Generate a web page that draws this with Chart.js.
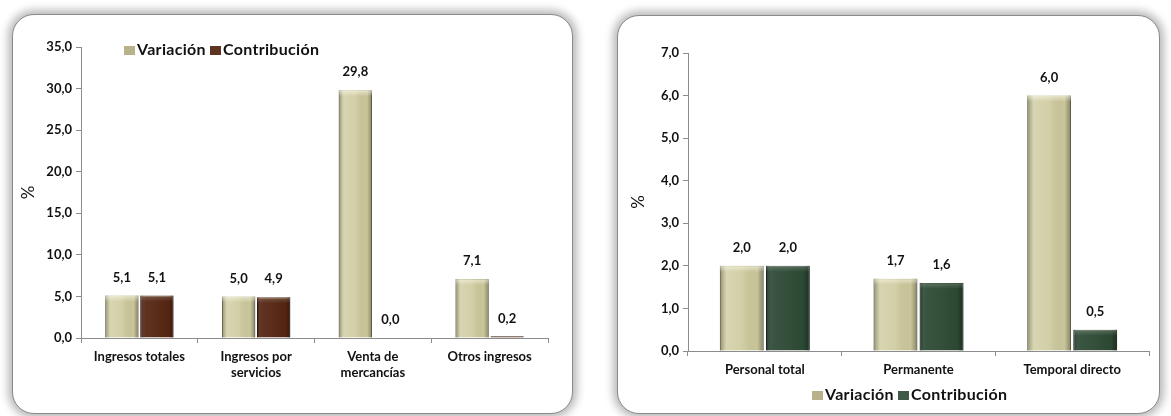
<!DOCTYPE html>
<html>
<head>
<meta charset="utf-8">
<script src="https://cdn.jsdelivr.net/npm/chart.js@4/dist/chart.umd.min.js"></script>
<style>
  body { margin: 0; background: #fff; width: 1171px; height: 416px; overflow: hidden; position: relative; font-family: Lato, sans-serif; }
  .panel { position: absolute; border: 1.5px solid #8a8a8a; border-radius: 22px; background: #fff;
           box-shadow: 0 0 9px 4px rgba(0,0,0,0.28); }
  #p1 { left: 12px; top: 14px; width: 559px; height: 398px; }
  #p2 { left: 617px; top: 15px; width: 541px; height: 397px; }
  canvas { position: absolute; }
  #c1 { left: 14px; top: 16px; }
  #c2 { left: 619px; top: 17px; }
  .legend { position: absolute; font: bold 16px Lato, sans-serif; color: #111; white-space: nowrap; letter-spacing: 0.3px; }
  .legend span.sw { display: inline-block; width: 11px; height: 9px; margin-right: 2px; vertical-align: 0px; }
  #leg1 { left: 124px; top: 39px; }
  #leg2 { left: 812px; top: 384px; }
</style>
</head>
<body>
<div class="panel" id="p1"></div>
<div class="panel" id="p2"></div>
<canvas id="c1" width="556" height="394"></canvas>
<canvas id="c2" width="539" height="393"></canvas>
<div class="legend" id="leg1"><span class="sw" style="background:#b8b189"></span>Variación <span class="sw" style="background:#5c3420"></span>Contribución</div>
<div class="legend" id="leg2"><span class="sw" style="background:#b8b189"></span>Variación <span class="sw" style="background:#3f5a47"></span>Contribución</div>

<script>
// left chart: ingresos
const ingresosLabels = [['Ingresos totales'], ['Ingresos por', 'servicios'], ['Venta de', 'mercancías'], ['Otros ingresos']];
const ingresosVariacion = [5.1, 5.0, 29.8, 7.1];
const ingresosContribucion = [5.1, 4.9, 0.0, 0.2];
const ingresosTicks = { max: 35, step: 5 };

// right chart: personal
const personalLabels = ['Personal total', 'Permanente', 'Temporal directo'];
const personalVariacion = [2.0, 1.7, 6.0];
const personalContribucion = [2.0, 1.6, 0.5];
const personalTicks = { max: 7, step: 1 };

const FONT = 'Lato, sans-serif';
const fmt = v => Number(v).toFixed(1).replace('.', ',');

// bevel shading over each bar + value labels
const barLook = {
  id: 'barLook',
  afterDatasetsDraw(chart) {
    const ctx = chart.ctx;
    chart.data.datasets.forEach((ds, di) => {
      const meta = chart.getDatasetMeta(di);
      const lite = di === 0 ? 0.22 : 0.06;
      meta.data.forEach((bar, i) => {
        const left = bar.x - bar.width / 2, right = bar.x + bar.width / 2;
        const h = bar.base - bar.y;
        if (h > 2) {
          ctx.save();
          const g = ctx.createLinearGradient(left, 0, right, 0);
          g.addColorStop(0, 'rgba(0,0,0,0.30)');
          g.addColorStop(0.15, 'rgba(255,255,255,' + lite + ')');
          g.addColorStop(0.5, 'rgba(255,255,255,' + lite / 2 + ')');
          g.addColorStop(0.85, 'rgba(0,0,0,0.02)');
          g.addColorStop(1, 'rgba(0,0,0,0.35)');
          ctx.fillStyle = g;
          ctx.fillRect(left, bar.y, bar.width, h);
          const t = Math.min(6, h / 2);
          const g2 = ctx.createLinearGradient(0, bar.y, 0, bar.y + t);
          g2.addColorStop(0, 'rgba(255,255,230,' + (di === 0 ? 0.55 : 0.2) + ')');
          g2.addColorStop(1, 'rgba(255,255,255,0)');
          ctx.fillStyle = g2;
          ctx.fillRect(left, bar.y, bar.width, t);
          ctx.restore();
        }
        ctx.save();
        ctx.font = 'bold 13px ' + FONT;
        ctx.fillStyle = '#111';
        ctx.textAlign = 'center';
        ctx.textBaseline = 'middle';
        ctx.fillText(fmt(ds.data[i]), bar.x, bar.y - 18);
        ctx.restore();
      });
    });
  }
};

function makeChart(id, labels, vari, contrib, contribColor, ticks, opts) {
  return new Chart(document.getElementById(id), {
    type: 'bar',
    data: {
      labels: labels,
      datasets: [
        { label: 'Variación', data: vari, backgroundColor: '#cdc99c', borderColor: '#8f8a66', borderWidth: 1 },
        { label: 'Contribución', data: contrib, backgroundColor: contribColor.fill, borderColor: contribColor.edge, borderWidth: 1 }
      ]
    },
    options: {
      responsive: false,
      animation: false,
      layout: { padding: opts.padding },
      datasets: { bar: { categoryPercentage: 0.6, barPercentage: 0.95 } },
      plugins: {
        tooltip: { enabled: false },
        legend: { display: false }
      },
      scales: {
        x: {
          grid: { drawOnChartArea: false, color: '#8c8c8c', tickLength: 5, offset: true },
          border: { color: '#8c8c8c' },
          ticks: { color: '#111', font: { family: FONT, size: 13, weight: 'bold' }, maxRotation: 0, padding: 6 },
          afterFit: s => { s.height = opts.xHeight; }
        },
        y: {
          min: 0, max: ticks.max,
          grid: { drawOnChartArea: false, color: '#8c8c8c', tickLength: 5 },
          border: { color: '#8c8c8c' },
          ticks: { stepSize: ticks.step, color: '#111', font: { family: FONT, size: 13, weight: 'bold' }, padding: 4, callback: fmt },
          title: { display: true, text: '%', color: '#111', font: { family: FONT, size: 17 }, padding: { top: opts.titlePad, bottom: 0 } },
          afterFit: s => { s.width = opts.yWidth; }
        }
      }
    },
    plugins: [barLook]
  });
}

makeChart('c1', ingresosLabels, ingresosVariacion, ingresosContribucion,
  { fill: '#552612', edge: '#3a1707' }, ingresosTicks,
  { padding: { top: 31, right: 22, bottom: 30, left: 0 }, xHeight: 42, yWidth: 67, titlePad: 4 });

makeChart('c2', personalLabels, personalVariacion, personalContribucion,
  { fill: '#2d4a35', edge: '#1c3224' }, personalTicks,
  { padding: { top: 36, right: 9, bottom: 27, left: 0 }, xHeight: 32, yWidth: 69, titlePad: 9 });
</script>
</body>
</html>
